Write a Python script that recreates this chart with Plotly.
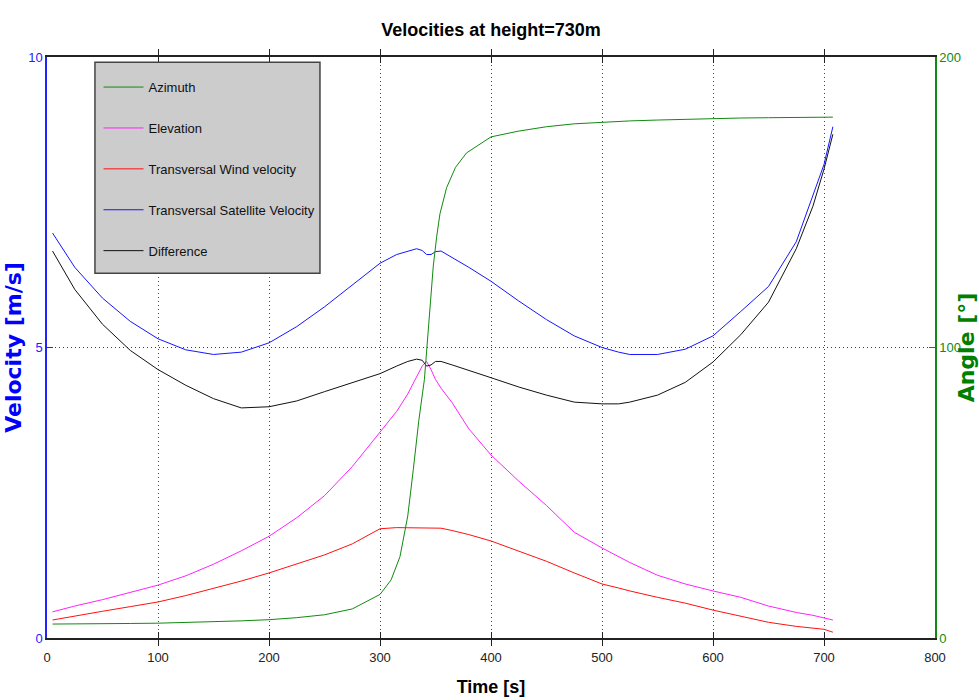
import plotly.graph_objects as go

# ---- data ----
time = [5, 25, 50, 75, 100, 125, 150, 175, 200, 225, 250, 275, 300, 315, 325, 333,
        338, 342, 346, 350, 355, 365, 380, 400, 425, 450, 475, 500, 515, 525, 550,
        575, 600, 625, 650, 675, 690, 700, 708]

sat_velocity = [6.97, 6.38, 5.85, 5.45, 5.15, 4.96, 4.88, 4.92, 5.08, 5.36, 5.7, 6.07, 6.45,
                6.6, 6.66, 6.7, 6.67, 6.6, 6.6, 6.65, 6.66, 6.55, 6.38, 6.14, 5.8, 5.48,
                5.2, 5.0, 4.92, 4.88, 4.88, 4.97, 5.2, 5.62, 6.05, 6.82, 7.6, 8.15, 8.8]

difference = [6.66, 6.0, 5.4, 4.95, 4.62, 4.35, 4.12, 3.96, 3.98, 4.08, 4.24, 4.4, 4.55,
              4.68, 4.76, 4.8, 4.78, 4.68, 4.7, 4.76, 4.76, 4.7, 4.6, 4.48, 4.32, 4.18,
              4.06, 4.03, 4.03, 4.06, 4.18, 4.4, 4.75, 5.22, 5.78, 6.7, 7.43, 8.07, 8.67]

elevation = [0.45, 0.55, 0.66, 0.78, 0.91, 1.07, 1.27, 1.5, 1.75, 2.07, 2.45, 2.95, 3.55,
             3.9, 4.2, 4.5, 4.68, 4.76, 4.62, 4.45, 4.3, 4.05, 3.6, 3.15, 2.7, 2.28,
             1.82, 1.55, 1.4, 1.3, 1.08, 0.93, 0.81, 0.7, 0.55, 0.44, 0.39, 0.35, 0.31]

wind_velocity = [0.31, 0.38, 0.46, 0.54, 0.62, 0.73, 0.85, 0.98, 1.12, 1.27, 1.43, 1.62, 1.88,
                 1.9, 1.9, 1.9, 1.9, 1.9, 1.9, 1.9, 1.89, 1.85, 1.78, 1.67, 1.5, 1.32,
                 1.12, 0.93, 0.86, 0.81, 0.7, 0.6, 0.48, 0.38, 0.27, 0.2, 0.17, 0.15, 0.1]

az_time = [5, 25, 50, 75, 100, 125, 150, 175, 200, 225, 250, 275, 300, 310, 318, 325, 330,
           335, 340, 343, 346, 348, 351, 354, 360, 368, 378, 400, 425, 450, 475, 500,
           525, 550, 575, 600, 625, 650, 675, 690, 708]
azimuth = [4.8, 4.8, 4.9, 5.0, 5.1, 5.3, 5.5, 5.9, 6.3, 7.0, 8.0, 10.0, 15.0, 20.0, 28.0,
           42.0, 58.0, 75.0, 89.0, 103.0, 117.0, 128.0, 138.0, 146.0, 155.0, 162.0, 167.0,
           172.5, 174.5, 176.0, 177.0, 177.6, 178.0, 178.3, 178.6, 178.8, 179.0, 179.1,
           179.2, 179.3, 179.3]

x_ticks = [0, 100, 200, 300, 400, 500, 600, 700, 800]
vel_ticks = [0, 5, 10]
ang_ticks = [0, 100, 200]

FONT = "Liberation Sans, Arial, sans-serif"
WIDE = "DejaVu Sans, Verdana, sans-serif"

fig = go.Figure()
fig.add_trace(go.Scatter(x=az_time, y=azimuth, name="Azimuth", mode="lines",
                         line=dict(color="#108a10", width=1), yaxis="y2", legendgroup="a"))
fig.add_trace(go.Scatter(x=time, y=elevation, name="Elevation", mode="lines",
                         line=dict(color="#ff22ff", width=1), legendgroup="b"))
fig.add_trace(go.Scatter(x=time, y=wind_velocity, name="Transversal Wind velocity", mode="lines",
                         line=dict(color="#ff1010", width=1), legendgroup="c"))
fig.add_trace(go.Scatter(x=time, y=sat_velocity, name="Transversal Satellite Velocity", mode="lines",
                         line=dict(color="#1515ff", width=1), legendgroup="d"))
fig.add_trace(go.Scatter(x=time, y=difference, name="Difference", mode="lines",
                         line=dict(color="#111111", width=1), legendgroup="e"))

fig.update_layout(
    width=979, height=700,
    margin=dict(l=47, r=44, t=57, b=62),
    paper_bgcolor="white", plot_bgcolor="white",
    title=dict(text="<b>Velocities at height=730m</b>", x=0.5015, xanchor="center",
               y=0.957, yanchor="middle", font=dict(family=FONT, size=18, color="black")),
    xaxis=dict(range=[0, 800], tickvals=x_ticks, ticks="inside", ticklen=6, tickcolor="#222",
               showline=True, linecolor="#222", linewidth=1.5, mirror="allticks",
               showgrid=True, gridcolor="#444", griddash="1px,3px", gridwidth=1,
               zeroline=False, automargin=False, ticklabelstandoff=7,
               tickfont=dict(family=FONT, size=13, color="#222"),
               title=dict(text="<b>Time [s]</b>", font=dict(family=FONT, size=18, color="black"),
                          standoff=16)),
    yaxis=dict(range=[0, 10], tickvals=vel_ticks, ticks="inside", ticklen=6, tickcolor="#2222ff",
               showline=True, linecolor="#2222ff", linewidth=1.5,
               showgrid=True, gridcolor="#2020ff", griddash="1px,3px", gridwidth=1,
               zeroline=False, automargin=False,
               tickfont=dict(family=FONT, size=13, color="#2222ff"),
               title=dict(text="<b>Velocity [m/s]</b>",
                          font=dict(family=WIDE, size=22, color="#0000ff"), standoff=0)),
    yaxis2=dict(range=[0, 200], tickvals=ang_ticks, ticks="inside", ticklen=6, tickcolor="#108a10",
                overlaying="y", side="right", showline=True, linecolor="#108a10", linewidth=1.5,
                showgrid=False, zeroline=False, automargin=False,
                tickfont=dict(family=FONT, size=13, color="#108a10"),
                title=dict(text="<b>Angle [°]</b>",
                           font=dict(family=WIDE, size=22, color="#008000"), standoff=6)),
    showlegend=True,
    legend=dict(x=0.058, y=0.974, xanchor="left", yanchor="top", bgcolor="rgba(0,0,0,0)",
                borderwidth=0, traceorder="grouped", tracegroupgap=21, itemwidth=40,
                font=dict(family=FONT, size=13, color="#111")),
    shapes=[dict(type="rect", xref="paper", yref="paper", x0=0.054, x1=0.3074, y0=0.628, y1=0.991,
                 fillcolor="#cccccc", line=dict(color="#444", width=1.5), layer="above")],
)

fig.write_html("out.html")
